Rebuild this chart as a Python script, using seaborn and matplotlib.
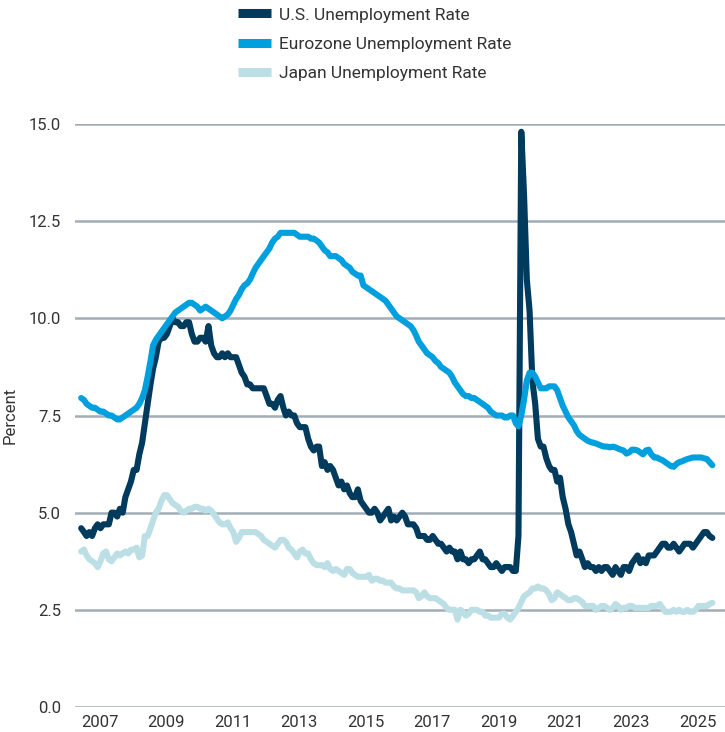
import matplotlib
matplotlib.use("Agg")
import matplotlib.pyplot as plt
import matplotlib.dates as mdates
import seaborn as sns
import pandas as pd

# Monthly data, Jan 2007 - Jan 2026 (percent)
us_rate = [
    4.6, 4.5, 4.4, 4.5, 4.4, 4.6, 4.7, 4.6, 4.7, 4.7, 4.7, 5.0,
    5.0, 4.9, 5.1, 5.0, 5.4, 5.6, 5.8, 6.1, 6.1, 6.5, 6.8, 7.3,
    7.8, 8.3, 8.7, 9.0, 9.4, 9.5, 9.5, 9.6, 9.8, 10.0, 9.9, 9.9,
    9.8, 9.8, 9.9, 9.9, 9.6, 9.4, 9.4, 9.5, 9.5, 9.4, 9.8, 9.3,
    9.1, 9.0, 9.0, 9.1, 9.0, 9.1, 9.0, 9.0, 9.0, 8.8, 8.6, 8.5,
    8.3, 8.3, 8.2, 8.2, 8.2, 8.2, 8.2, 8.0, 7.8, 7.8, 7.7, 7.9,
    8.0, 7.7, 7.5, 7.6, 7.5, 7.5, 7.3, 7.2, 7.2, 7.2, 6.9, 6.7,
    6.6, 6.7, 6.7, 6.2, 6.3, 6.1, 6.2, 6.1, 5.9, 5.7, 5.8, 5.6,
    5.7, 5.5, 5.4, 5.4, 5.6, 5.3, 5.2, 5.1, 5.0, 5.0, 5.1, 5.0,
    4.8, 4.9, 5.0, 5.1, 4.8, 4.9, 4.8, 4.9, 5.0, 4.9, 4.7, 4.7,
    4.7, 4.6, 4.4, 4.4, 4.4, 4.3, 4.3, 4.4, 4.3, 4.2, 4.2, 4.1,
    4.0, 4.1, 4.0, 4.0, 3.8, 4.0, 3.8, 3.8, 3.7, 3.8, 3.8, 3.9,
    4.0, 3.8, 3.8, 3.7, 3.6, 3.6, 3.7, 3.6, 3.5, 3.6, 3.6, 3.6,
    3.5, 3.5, 4.4, 14.8, 13.2, 11.0, 10.2, 8.4, 7.8, 6.9, 6.7, 6.7,
    6.4, 6.2, 6.1, 6.1, 5.8, 5.9, 5.4, 5.1, 4.7, 4.5, 4.2, 3.9,
    4.0, 3.8, 3.6, 3.7, 3.6, 3.6, 3.5, 3.6, 3.5, 3.6, 3.6, 3.5,
    3.4, 3.6, 3.5, 3.4, 3.6, 3.6, 3.5, 3.7, 3.8, 3.9, 3.7, 3.8,
    3.7, 3.9, 3.9, 3.9, 4.0, 4.1, 4.2, 4.2, 4.1, 4.1, 4.2, 4.1,
    4.0, 4.1, 4.2, 4.2, 4.2, 4.1, 4.2, 4.3, 4.4, 4.5, 4.5, 4.4,
    4.35,
]

euro_rate = [
    7.95, 7.9, 7.8, 7.75, 7.7, 7.7, 7.65, 7.6, 7.6, 7.55, 7.5, 7.5,
    7.45, 7.4, 7.4, 7.45, 7.5, 7.55, 7.6, 7.65, 7.7, 7.8, 7.95, 8.15,
    8.5, 8.9, 9.3, 9.45, 9.55, 9.65, 9.75, 9.85, 9.95, 10.05, 10.15, 10.2,
    10.25, 10.3, 10.35, 10.4, 10.4, 10.35, 10.3, 10.2, 10.25, 10.3, 10.25, 10.2,
    10.15, 10.1, 10.05, 10.0, 10.05, 10.1, 10.2, 10.35, 10.5, 10.6, 10.75, 10.85,
    10.9, 11.0, 11.15, 11.3, 11.4, 11.5, 11.6, 11.7, 11.8, 11.95, 12.05, 12.1,
    12.2, 12.2, 12.2, 12.2, 12.2, 12.2, 12.15, 12.1, 12.1, 12.1, 12.1, 12.05,
    12.05, 12.0, 11.95, 11.85, 11.75, 11.7, 11.6, 11.6, 11.6, 11.55, 11.5, 11.4,
    11.35, 11.3, 11.2, 11.15, 11.1, 11.1, 10.85, 10.8, 10.75, 10.7, 10.65, 10.6,
    10.55, 10.5, 10.45, 10.35, 10.25, 10.15, 10.05, 10.0, 9.95, 9.9, 9.85, 9.8,
    9.7, 9.55, 9.4, 9.3, 9.2, 9.1, 9.05, 9.0, 8.9, 8.85, 8.75, 8.7,
    8.65, 8.6, 8.5, 8.35, 8.25, 8.15, 8.05, 8.0, 8.0, 7.95, 7.95, 7.9,
    7.85, 7.8, 7.75, 7.7, 7.6, 7.55, 7.5, 7.5, 7.5, 7.45, 7.45, 7.5,
    7.5, 7.3, 7.22, 7.5, 7.9, 8.4, 8.6, 8.6, 8.5, 8.35, 8.2, 8.2,
    8.2, 8.25, 8.25, 8.25, 8.15, 7.95, 7.75, 7.6, 7.45, 7.35, 7.25, 7.1,
    7.0, 6.95, 6.9, 6.85, 6.82, 6.8, 6.78, 6.75, 6.72, 6.7, 6.7, 6.68,
    6.7, 6.68, 6.65, 6.62, 6.6, 6.52, 6.55, 6.62, 6.62, 6.6, 6.55, 6.5,
    6.6, 6.62, 6.5, 6.42, 6.42, 6.38, 6.35, 6.3, 6.25, 6.2, 6.18, 6.25,
    6.3, 6.32, 6.35, 6.38, 6.4, 6.42, 6.42, 6.42, 6.42, 6.4, 6.38, 6.3,
    6.22,
]

japan_rate = [
    4.0, 4.05, 3.9, 3.8, 3.75, 3.7, 3.6, 3.75, 3.95, 4.0, 3.8, 3.75,
    3.85, 3.95, 3.9, 3.95, 4.0, 3.95, 4.05, 4.05, 4.1, 3.85, 3.9, 4.4,
    4.4, 4.6, 4.8, 5.0, 5.1, 5.3, 5.45, 5.45, 5.35, 5.25, 5.2, 5.15,
    5.05, 5.0, 5.05, 5.1, 5.1, 5.15, 5.15, 5.1, 5.1, 5.05, 5.1, 5.05,
    4.95, 4.85, 4.75, 4.7, 4.7, 4.75, 4.6, 4.5, 4.25, 4.35, 4.5, 4.5,
    4.5, 4.5, 4.5, 4.5, 4.45, 4.4, 4.3, 4.25, 4.2, 4.15, 4.1, 4.2,
    4.3, 4.3, 4.25, 4.1, 4.05, 3.95, 3.85, 4.0, 4.05, 3.95, 3.95, 3.8,
    3.7, 3.65, 3.65, 3.65, 3.6, 3.7, 3.55, 3.5, 3.55, 3.5, 3.45, 3.4,
    3.55, 3.55, 3.45, 3.4, 3.35, 3.35, 3.35, 3.35, 3.4, 3.25, 3.3, 3.3,
    3.25, 3.25, 3.2, 3.2, 3.2, 3.1, 3.05, 3.05, 3.0, 3.0, 3.0, 3.0,
    3.0, 2.95, 2.8, 2.85, 2.95, 2.85, 2.8, 2.8, 2.8, 2.75, 2.7, 2.65,
    2.55, 2.5, 2.5, 2.5, 2.25, 2.5, 2.45, 2.35, 2.4, 2.5, 2.5, 2.5,
    2.45, 2.45, 2.35, 2.35, 2.3, 2.3, 2.3, 2.3, 2.4, 2.4, 2.3, 2.25,
    2.35, 2.45, 2.55, 2.7, 2.85, 2.9, 2.95, 3.05, 3.05, 3.1, 3.05, 3.05,
    3.0, 2.9, 2.75, 2.8, 2.95, 2.9, 2.85, 2.8, 2.75, 2.75, 2.8, 2.8,
    2.75, 2.7, 2.6, 2.6, 2.6, 2.6, 2.5, 2.55, 2.6, 2.6, 2.55, 2.5,
    2.55, 2.65, 2.6, 2.5, 2.55, 2.55, 2.6, 2.6, 2.55, 2.55, 2.55, 2.55,
    2.55, 2.55, 2.6, 2.6, 2.6, 2.65, 2.55, 2.45, 2.45, 2.45, 2.5, 2.45,
    2.5, 2.45, 2.45, 2.5, 2.45, 2.45, 2.5, 2.6, 2.6, 2.6, 2.6, 2.65,
    2.68,
]

series_names = ["U.S. Unemployment Rate", "Eurozone Unemployment Rate", "Japan Unemployment Rate"]
series_colors = ["#003A5D", "#00A0DF", "#BCDFE6"]
y_ticks = [0.0, 2.5, 5.0, 7.5, 10.0, 12.5, 15.0]
x_tick_years = [2007, 2009, 2011, 2013, 2015, 2017, 2019, 2021, 2023, 2025]

dates = pd.date_range("2007-01-01", periods=len(us_rate), freq="MS")
df = pd.concat([
    pd.DataFrame({"date": dates, "value": us_rate, "series": series_names[0]}),
    pd.DataFrame({"date": dates, "value": euro_rate, "series": series_names[1]}),
    pd.DataFrame({"date": dates, "value": japan_rate, "series": series_names[2]}),
], ignore_index=True)

sns.set_style("white")
plt.rcParams["font.family"] = ["Roboto", "DejaVu Sans"]

fig = plt.figure(figsize=(7.25, 7.32), dpi=100)
ax = fig.add_axes([75 / 725, 25 / 732, 650 / 725, 583 / 732])

sns.lineplot(data=df, x="date", y="value", hue="series", hue_order=series_names,
             palette=dict(zip(series_names, series_colors)), linewidth=4.4,
             ax=ax, legend=True)

ax.set_ylim(0, 15)
ax.set_xlim(pd.Timestamp("2006-10-25"), pd.Timestamp("2026-05-20"))
ax.set_yticks(y_ticks)
ax.set_yticklabels([f"{v:.1f}" for v in y_ticks])
ax.set_xticks([pd.Timestamp(f"{y}-01-01") for y in x_tick_years])
ax.set_xticklabels([str(y) for y in x_tick_years], ha="left")
ax.tick_params(axis="both", length=0, labelsize=12, colors="#333333")
ax.tick_params(axis="x", pad=6)
ax.tick_params(axis="y", pad=10)
ax.yaxis.grid(True, color="#A3ADB7", linewidth=1.8)
ax.xaxis.grid(False)
ax.set_axisbelow(True)
for sp in ax.spines.values():
    sp.set_visible(False)
ax.set_xlabel("")
ax.set_ylabel("Percent", fontsize=12, color="#333333", labelpad=8)

handles, labels = ax.get_legend_handles_labels()
ax.legend_.remove()
leg = fig.legend(handles, labels, loc="upper left", bbox_to_anchor=(228 / 725, 1.0 + 3 / 732),
                 frameon=False, fontsize=12.5, handlelength=1.9, handletextpad=0.45,
                 labelspacing=0.8, borderaxespad=0.2)
for h in leg.legend_handles:
    h.set_linewidth(6.5)
    h.set_solid_capstyle("butt")
for t in leg.get_texts():
    t.set_color("#333333")

fig.savefig("out.png", dpi=100)
